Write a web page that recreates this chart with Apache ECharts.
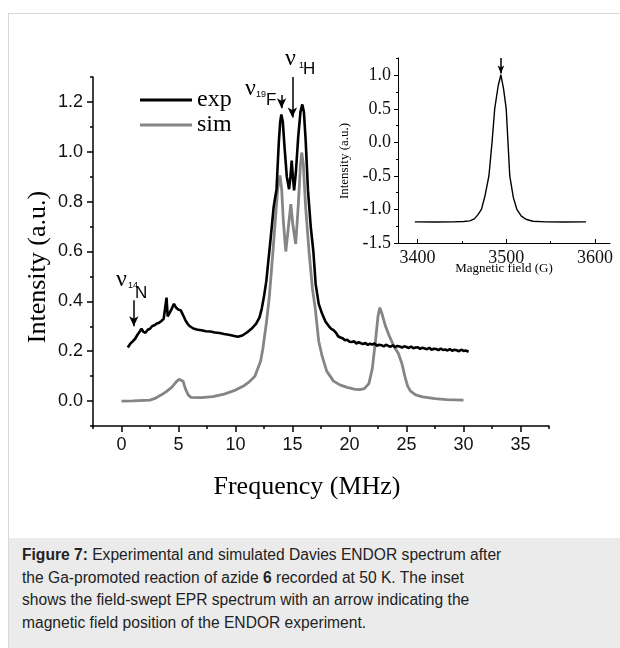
<!DOCTYPE html>
<html>
<head>
<meta charset="utf-8">
<style>
  body { margin: 0; width: 620px; height: 648px; position: relative; background: #fff; overflow: hidden; }
  #card { position: absolute; left: 8px; top: 13px; width: 640px; height: 660px; border-left: 1px solid #d8d8d8; border-top: 1px solid #d8d8d8; }
  #caption { position: absolute; left: 9px; top: 538px; width: 611px; height: 110px; background: #ebebeb;
             box-sizing: border-box; padding: 6px 0 0 13px; font: 15.6px "Liberation Sans", Arial, sans-serif;
             line-height: 22.7px; color: #222; white-space: nowrap; }
  #container { position: absolute; left: 0; top: 0; width: 620px; height: 538px; }
</style>
</head>
<body>
<div id="card"></div>
<div id="caption"><b>Figure 7:</b> Experimental and simulated Davies ENDOR spectrum after<br>the Ga-promoted reaction of azide <b>6</b> recorded at 50 K. The inset<br>shows the field-swept EPR spectrum with an arrow indicating the<br>magnetic field position of the ENDOR experiment.</div>
<div id="container"></div>

<script src="https://cdn.jsdelivr.net/npm/echarts@6/dist/echarts.min.js"></script>
<script type="text/javascript">
// experimental ENDOR trace (MHz, a.u.)
var expFreq = [0.55, 0.8, 1.0, 1.2, 1.4, 1.6, 1.75, 1.9, 2.1, 2.3, 2.5, 2.7, 2.9, 3.1, 3.3, 3.5, 3.7, 3.85, 3.95, 4.05, 4.2, 4.4, 4.6, 4.8, 5.0, 5.2, 5.4, 5.6, 5.8, 6.0, 6.3, 6.6, 7.0, 7.4, 7.8, 8.2, 8.6, 9.0, 9.4, 9.8, 10.2, 10.6, 11.0, 11.4, 11.8, 12.1, 12.3, 12.5, 12.7, 12.9, 13.1, 13.35, 13.6, 13.8, 13.92, 14.02, 14.15, 14.3, 14.5, 14.7, 14.82, 14.93, 15.03, 15.14, 15.3, 15.5, 15.7, 15.86, 16.0, 16.15, 16.36, 16.6, 16.83, 17.03, 17.3, 17.6, 17.9, 18.2, 18.4, 18.6, 18.8,
    19.0, 19.2, 19.4, 19.6, 19.8, 20.0, 20.2, 20.4, 20.6, 20.8, 21.0, 21.2, 21.4, 21.6, 21.8, 22.0, 22.2, 22.4, 22.6, 22.8, 23.0, 23.2, 23.4, 23.6, 23.8, 24.0, 24.2, 24.4, 24.6, 24.8, 25.0, 25.2, 25.4, 25.6, 25.8, 26.0, 26.2, 26.4, 26.6, 26.8, 27.0, 27.2, 27.4, 27.6, 27.8, 28.0, 28.2, 28.4, 28.6, 28.8, 29.0, 29.2, 29.4, 29.6, 29.8, 30.0, 30.2, 30.45];
var expInt = [0.215, 0.232, 0.24, 0.25, 0.266, 0.279, 0.29, 0.279, 0.274, 0.286, 0.29, 0.301, 0.304, 0.311, 0.314, 0.321, 0.33, 0.334, 0.415, 0.34, 0.352, 0.37, 0.39, 0.374, 0.366, 0.364, 0.345, 0.325, 0.31, 0.3, 0.291, 0.287, 0.284, 0.28, 0.279, 0.275, 0.273, 0.269, 0.266, 0.262, 0.258, 0.263, 0.275, 0.29, 0.31, 0.335, 0.37, 0.42, 0.48, 0.57, 0.66, 0.78, 0.85, 1.04, 1.12, 1.15, 1.12, 1.02, 0.9, 0.85, 0.9, 0.965, 0.9, 0.845, 0.92, 1.06, 1.16, 1.19, 1.16, 1.05, 0.844, 0.7, 0.6, 0.47, 0.39, 0.35, 0.318, 0.3, 0.29, 0.285, 0.275,
    0.26, 0.255, 0.252, 0.244, 0.246, 0.238, 0.237, 0.24, 0.231, 0.236, 0.232, 0.229, 0.233, 0.225, 0.23, 0.227, 0.231, 0.222, 0.226, 0.224, 0.219, 0.226, 0.221, 0.218, 0.224, 0.216, 0.221, 0.219, 0.214, 0.22, 0.217, 0.213, 0.219, 0.212, 0.215, 0.216, 0.209, 0.214, 0.211, 0.208, 0.214, 0.206, 0.21, 0.209, 0.204, 0.211, 0.205, 0.207, 0.203, 0.209, 0.202, 0.206, 0.204, 0.2, 0.206, 0.201, 0.203, 0.198];

// simulated ENDOR trace
var simFreq = [0, 1, 2, 2.5, 3, 3.5, 3.9, 4.4, 4.8, 5.05, 5.22, 5.4, 5.6, 5.85, 6.1, 7, 8, 9, 10, 10.7, 11.2, 11.7, 12.2, 12.4, 12.7, 12.95, 13.2, 13.45, 13.7, 13.91, 14.05, 14.2, 14.41, 14.6, 14.85, 15.05, 15.28, 15.5, 15.7, 15.81, 15.95, 16.15, 16.45, 16.75, 17.0, 17.3, 17.6, 18.0, 18.6, 19.2, 19.8, 20.4, 20.9, 21.3, 21.7, 22.0, 22.3, 22.5, 22.66, 22.85, 23.16, 23.5, 23.9, 24.3, 24.6, 24.85, 25.1, 25.35, 25.8, 26.4, 27.5, 28.5, 30];
var simInt = [0, 0.001, 0.003, 0.004, 0.012, 0.025, 0.037, 0.055, 0.077, 0.088, 0.095, 0.08, 0.05, 0.025, 0.015, 0.014, 0.018, 0.028, 0.044, 0.06, 0.077, 0.1, 0.16, 0.21, 0.31, 0.41, 0.55, 0.7, 0.85, 0.905, 0.85, 0.72, 0.6, 0.68, 0.79, 0.7, 0.63, 0.78, 0.95, 0.997, 0.95, 0.78, 0.6, 0.45, 0.37, 0.24, 0.18, 0.12, 0.08, 0.064, 0.055, 0.048, 0.046, 0.05, 0.07, 0.13, 0.25, 0.34, 0.375, 0.35, 0.3, 0.26, 0.22, 0.19, 0.15, 0.1, 0.06, 0.04, 0.025, 0.017, 0.01, 0.006, 0.004];

// inset: field-swept EPR (G, a.u.)
var eprField = [3397, 3420, 3440, 3452, 3459, 3464, 3468, 3472, 3476, 3480.5, 3484, 3487, 3491, 3494, 3497, 3500, 3502, 3504, 3508, 3512, 3517, 3523, 3530, 3545, 3565, 3590];
var eprInt = [-1.185, -1.187, -1.185, -1.18, -1.17, -1.14, -1.08, -1.0, -0.8, -0.5, 0.0, 0.5, 0.85, 1.01, 0.8, 0.5, 0.0, -0.5, -0.82, -1.0, -1.1, -1.15, -1.175, -1.185, -1.187, -1.185];

// tick values
var freqTicks = [0, 5, 10, 15, 20, 25, 30, 35];
var freqMinor = [-2.5, 2.5, 7.5, 12.5, 17.5, 22.5, 27.5, 32.5, 37.5];
var intTicks = [0, 0.2, 0.4, 0.6, 0.8, 1.0, 1.2];
var intMinor = [-0.1, 0.1, 0.3, 0.5, 0.7, 0.9, 1.1, 1.3];
var fieldTicks = [3400, 3500, 3600];
var fieldMinor = [3450, 3550];
var eprTicks = [-1.5, -1.0, -0.5, 0.0, 0.5, 1.0];
var eprMinor = [-1.25, -0.75, -0.25, 0.25, 0.75, 1.25];

// arrows: [x, yFrom, yTo]
var arrowN = [1.08, 0.404, 0.3];
var arrowF = [14.04, 1.228, 1.175];
var arrowH = [14.99, 1.3, 1.138];
var arrowEpr = [3494, 1.26, 1.03];

function zip(a, b) {
    var out = [];
    for (var i = 0; i < a.length; i++) out.push([a[i], b[i]]);
    return out;
}
function arrow(a) {
    return [{coord: [a[0], a[1]]}, {coord: [a[0], a[2]]}];
}

var SERIF = '"Liberation Serif", "Times New Roman", serif';
var SANS = '"Liberation Sans", Arial, sans-serif';

function axisBase(grid, min, max, pos) {
    return {
        type: 'value', gridIndex: grid, min: min, max: max, position: pos,
        axisLine: {onZero: false, lineStyle: {color: '#000', width: 1.5}},
        splitLine: {show: false}
    };
}

var mainX = axisBase(0, -2.5, 37.5, 'bottom');
mainX.axisTick = {customValues: freqTicks, length: 6, lineStyle: {color: '#000', width: 1.5}};
mainX.axisLabel = {customValues: freqTicks, color: '#111', fontFamily: SANS, fontSize: 18, margin: 10};
var mainXMinor = axisBase(0, -2.5, 37.5, 'bottom');
mainXMinor.axisLine.show = false;
mainXMinor.axisTick = {customValues: freqMinor, length: 3, lineStyle: {color: '#000', width: 1.5}};
mainXMinor.axisLabel = {show: false};

var mainY = axisBase(0, -0.1, 1.3, 'left');
mainY.axisTick = {customValues: intTicks, length: 6, lineStyle: {color: '#000', width: 1.5}};
mainY.axisLabel = {customValues: intTicks, color: '#111', fontFamily: SANS, fontSize: 18, margin: 10,
    formatter: function (v) { return v.toFixed(1); }};
var mainYMinor = axisBase(0, -0.1, 1.3, 'left');
mainYMinor.axisLine.show = false;
mainYMinor.axisTick = {customValues: intMinor, length: 3, lineStyle: {color: '#000', width: 1.5}};
mainYMinor.axisLabel = {show: false};

var insX = axisBase(1, 3378, 3617, 'bottom');
insX.axisLine.lineStyle.width = 1;
insX.axisTick = {customValues: fieldTicks, inside: true, length: 4, lineStyle: {color: '#000'}};
insX.axisLabel = {customValues: fieldTicks, color: '#111', fontFamily: SERIF, fontSize: 18, margin: 6,
    formatter: function (v) { return String(v); }};
var insXMinor = axisBase(1, 3378, 3617, 'bottom');
insXMinor.axisLine.show = false;
insXMinor.axisTick = {customValues: fieldMinor, inside: true, length: 2, lineStyle: {color: '#000'}};
insXMinor.axisLabel = {show: false};

var insY = axisBase(1, -1.5, 1.26, 'left');
insY.axisLine.lineStyle.width = 1;
insY.axisTick = {customValues: eprTicks, length: 4, lineStyle: {color: '#000'}};
insY.axisLabel = {customValues: eprTicks, color: '#111', fontFamily: SERIF, fontSize: 18, margin: 7,
    formatter: function (v) { return v.toFixed(1); }};
var insYMinor = axisBase(1, -1.5, 1.26, 'left');
insYMinor.axisLine.show = false;
insYMinor.axisTick = {customValues: eprMinor, length: 2, lineStyle: {color: '#000'}};
insYMinor.axisLabel = {show: false};

var arrowStyle = {
    silent: true, symbol: ['none', 'arrow'], symbolSize: [7, 10],
    label: {show: false}, lineStyle: {color: '#000', width: 1.5, type: 'solid'},
    emphasis: {disabled: true}, animation: false
};

function txt(x, y, s, font, rot) {
    return {type: 'text', x: x, y: y, rotation: rot || 0, silent: true,
        style: {text: s, font: font, fill: '#000', align: 'center', verticalAlign: 'middle',
                textAlign: 'center', textVerticalAlign: 'middle'}};
}
function txtL(x, y, s, font) {
    return {type: 'text', x: x, y: y, silent: true,
        style: {text: s, font: font, fill: '#000', align: 'left', verticalAlign: 'middle',
                textAlign: 'left', textVerticalAlign: 'middle'}};
}

var dom = document.getElementById('container');
var myChart = echarts.init(dom);
var option = {
    animation: false,
    backgroundColor: 'transparent',
    grid: [
        {left: 93, top: 77, width: 456, height: 349},
        {left: 398, top: 58, width: 212, height: 185}
    ],
    legend: {
        data: ['exp', 'sim'], orient: 'vertical', left: 135, top: 83,
        icon: 'rect', itemWidth: 52, itemHeight: 3, itemGap: 1,
        textStyle: {fontFamily: SERIF, fontSize: 24, color: '#000', lineHeight: 24}
    },
    xAxis: [mainX, mainXMinor, insX, insXMinor],
    yAxis: [mainY, mainYMinor, insY, insYMinor],
    series: [
        {
            name: 'sim', type: 'line', xAxisIndex: 0, yAxisIndex: 0, showSymbol: false,
            data: zip(simFreq, simInt), color: '#858585',
            lineStyle: {color: '#858585', width: 2.8}
        },
        {
            name: 'exp', type: 'line', xAxisIndex: 0, yAxisIndex: 0, showSymbol: false,
            data: zip(expFreq, expInt), color: '#000',
            lineStyle: {color: '#000', width: 2.6},
            markLine: Object.assign({data: [arrow(arrowN), arrow(arrowF), arrow(arrowH)]}, arrowStyle)
        },
        {
            name: 'EPR', type: 'line', xAxisIndex: 2, yAxisIndex: 2, showSymbol: false,
            data: zip(eprField, eprInt), color: '#000',
            lineStyle: {color: '#000', width: 1.4},
            markLine: Object.assign({data: [arrow(arrowEpr)]}, arrowStyle, {symbolSize: [5, 8]})
        }
    ],
    graphic: [
        txt(38, 267, 'Intensity (a.u.)', '26px ' + SERIF, Math.PI / 2),
        txt(307, 487, 'Frequency (MHz)', '26px ' + SERIF),
        txt(345, 161, 'Intensity (a.u.)', '13px ' + SERIF, Math.PI / 2),
        txt(504, 269, 'Magnetic field (G)', '13px ' + SERIF),
        txtL(116, 280, 'ν', '24px ' + SERIF),
        txtL(128, 286, '14', '9px ' + SANS),
        txtL(135, 293.5, 'N', '17px ' + SANS),
        txtL(245, 89, 'ν', '24px ' + SERIF),
        txtL(256, 95, '19', '9px ' + SANS),
        txtL(266, 100.5, 'F', '17px ' + SANS),
        txtL(285, 59, 'ν', '24px ' + SERIF),
        txtL(299, 66, '1', '9px ' + SANS),
        txtL(303, 69.5, 'H', '17px ' + SANS)
    ]
};

if (option && typeof option === 'object') {
    myChart.setOption(option);
}
</script>
</body>
</html>
